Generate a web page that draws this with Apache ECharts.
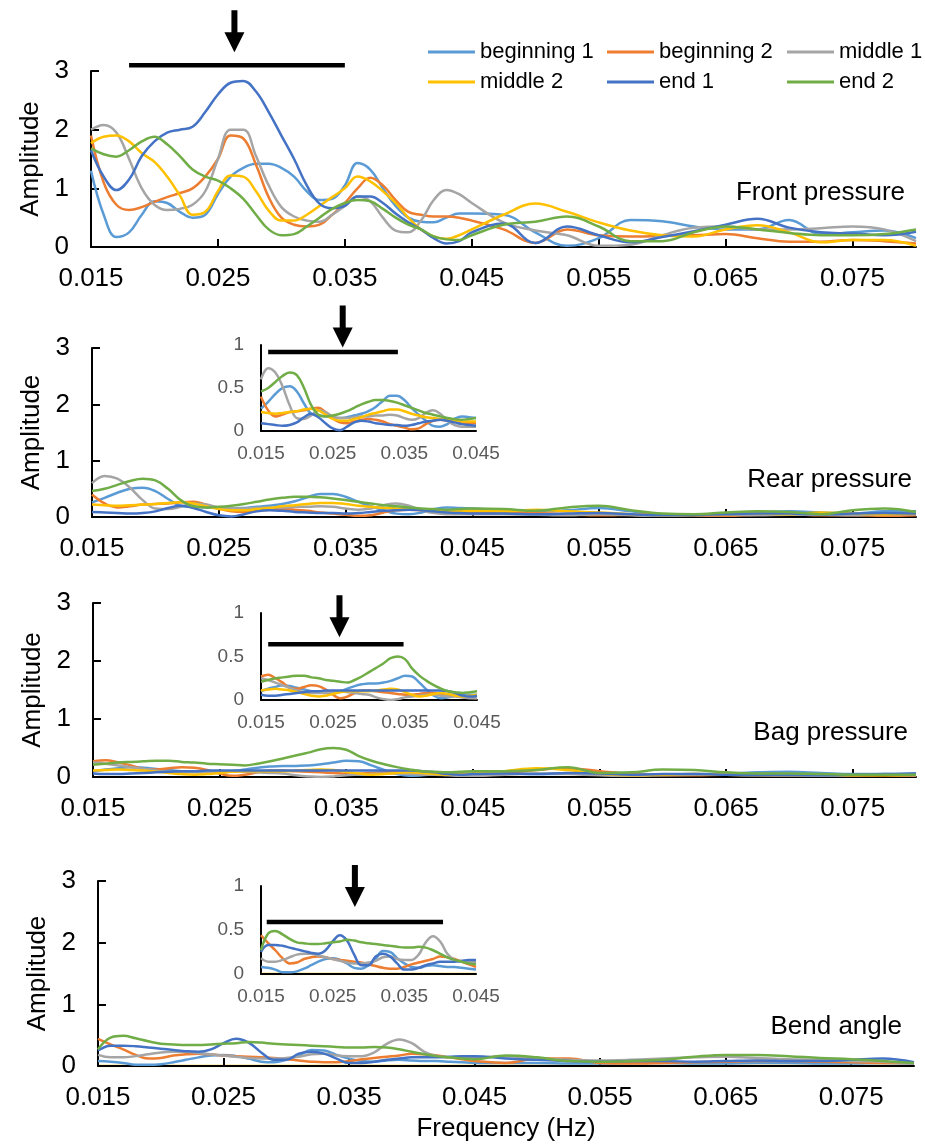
<!DOCTYPE html>
<html>
<head>
<meta charset="utf-8">
<script src="https://cdn.jsdelivr.net/npm/echarts@6/dist/echarts.min.js"></script>
<style>
html, body { margin: 0; background: #fff; }
#chart { width: 925px; height: 1144px; }
</style>
</head>
<body>
<div id="chart"></div>
<script>
const names = ['beginning 1', 'beginning 2', 'middle 1', 'middle 2', 'end 1', 'end 2'];
const colors = ['#5B9BD5', '#ED7D31', '#A5A5A5', '#FFC000', '#4472C4', '#70AD47'];
const panelTitles = ['Front pressure', 'Rear pressure', 'Bag pressure', 'Bend angle'];

// frequency (Hz) sample points
const freq = [0.015, 0.016, 0.017, 0.018, 0.019, 0.020, 0.021, 0.022, 0.023, 0.024,
  0.025, 0.026, 0.027, 0.028, 0.029, 0.030, 0.031, 0.032, 0.033, 0.034,
  0.035, 0.036, 0.037, 0.038, 0.039, 0.040, 0.041, 0.042, 0.043, 0.044, 0.045,
  0.0475, 0.050, 0.0525, 0.055, 0.0575, 0.060, 0.0625, 0.065, 0.0675, 0.070, 0.0725, 0.075, 0.0775, 0.080];

// front pressure
const front_b1 = [1.3, 0.55, 0.17, 0.25, 0.55, 0.78, 0.75, 0.6, 0.5, 0.55, 0.9, 1.2, 1.35, 1.42, 1.42, 1.35, 1.2, 0.95, 0.8, 0.82, 1.05, 1.43, 1.32, 1.0, 0.7, 0.5, 0.43, 0.42, 0.5, 0.57, 0.57,
  0.55, 0.25, 0.02, 0.15, 0.46, 0.44, 0.35, 0.3, 0.3, 0.46, 0.22, 0.25, 0.28, 0.15];
const front_b2 = [1.9, 1.1, 0.72, 0.63, 0.68, 0.77, 0.85, 0.92, 1.0, 1.2, 1.5, 1.9, 1.85, 1.4, 0.85, 0.5, 0.38, 0.35, 0.38, 0.55, 0.75, 1.0, 1.18, 1.05, 0.8, 0.6, 0.55, 0.52, 0.52, 0.5, 0.45,
  0.3, 0.07, 0.3, 0.2, 0.18, 0.19, 0.2, 0.22, 0.15, 0.09, 0.09, 0.12, 0.1, 0.06];
const front_m1 = [2.0, 2.08, 1.95, 1.5, 1.0, 0.72, 0.63, 0.65, 0.72, 0.95, 1.5, 2.0, 2.0, 1.55, 1.05, 0.68, 0.52, 0.45, 0.43, 0.55, 0.7, 0.86, 0.78, 0.5, 0.28, 0.25, 0.45, 0.8, 0.97, 0.9, 0.75,
  0.42, 0.28, 0.2, 0.02, 0.04, 0.2, 0.33, 0.35, 0.3, 0.3, 0.32, 0.35, 0.3, 0.1];
const front_m2 = [1.77, 1.88, 1.9, 1.8, 1.6, 1.45, 1.2, 0.88, 0.55, 0.6, 0.95, 1.22, 1.2, 0.95, 0.62, 0.45, 0.45, 0.55, 0.7, 0.85, 1.0, 1.2, 1.12, 0.95, 0.75, 0.5, 0.3, 0.18, 0.14, 0.2, 0.3,
  0.55, 0.74, 0.6, 0.42, 0.28, 0.2, 0.18, 0.3, 0.37, 0.25, 0.08, 0.12, 0.12, 0.02];
const front_e1 = [1.65, 1.2, 0.97, 1.15, 1.55, 1.8, 1.95, 2.0, 2.05, 2.3, 2.6, 2.8, 2.83, 2.65, 2.3, 1.9, 1.5, 1.05, 0.74, 0.66, 0.7, 0.86, 0.86, 0.75, 0.57, 0.42, 0.3, 0.15, 0.06, 0.1, 0.25,
  0.4, 0.07, 0.35, 0.2, 0.08, 0.17, 0.27, 0.38, 0.48, 0.33, 0.25, 0.23, 0.2, 0.26];
const front_e2 = [1.68, 1.58, 1.54, 1.65, 1.8, 1.88, 1.75, 1.55, 1.32, 1.2, 1.13, 1.0, 0.82, 0.55, 0.3, 0.2, 0.22, 0.35, 0.5, 0.65, 0.75, 0.8, 0.78, 0.65, 0.5, 0.38, 0.3, 0.18, 0.13, 0.12, 0.2,
  0.38, 0.43, 0.52, 0.35, 0.1, 0.1, 0.25, 0.35, 0.3, 0.24, 0.2, 0.2, 0.22, 0.3];

// rear pressure
const rear_b1 = [0.26, 0.34, 0.43, 0.5, 0.52, 0.46, 0.32, 0.2, 0.18, 0.17, 0.16, 0.15, 0.16, 0.18, 0.2, 0.23, 0.28, 0.35, 0.41, 0.41, 0.36, 0.27, 0.19, 0.12, 0.06, 0.05, 0.08, 0.14, 0.17, 0.16, 0.15,
  0.12, 0.1, 0.12, 0.16, 0.1, 0.05, 0.04, 0.06, 0.08, 0.1, 0.08, 0.06, 0.1, 0.1];
const rear_b2 = [0.4, 0.24, 0.17, 0.19, 0.22, 0.23, 0.24, 0.26, 0.27, 0.22, 0.15, 0.1, 0.09, 0.11, 0.13, 0.14, 0.13, 0.11, 0.08, 0.06, 0.04, 0.02, 0.03, 0.08, 0.12, 0.13, 0.12, 0.11, 0.1, 0.09, 0.09,
  0.08, 0.07, 0.05, 0.03, 0.04, 0.05, 0.03, 0.02, 0.04, 0.05, 0.03, 0.03, 0.02, 0.03];
const rear_m1 = [0.6, 0.73, 0.68, 0.52, 0.3, 0.15, 0.14, 0.18, 0.24, 0.22, 0.17, 0.15, 0.15, 0.16, 0.17, 0.17, 0.18, 0.18, 0.19, 0.18, 0.15, 0.13, 0.15, 0.21, 0.24, 0.2, 0.12, 0.07, 0.05, 0.05, 0.05,
  0.05, 0.04, 0.03, 0.05, 0.03, 0.02, 0.03, 0.04, 0.03, 0.04, 0.04, 0.03, 0.05, 0.05];
const rear_m2 = [0.22, 0.21, 0.2, 0.21, 0.22, 0.23, 0.25, 0.26, 0.24, 0.19, 0.14, 0.12, 0.12, 0.14, 0.16, 0.19, 0.21, 0.23, 0.25, 0.25, 0.23, 0.2, 0.18, 0.16, 0.15, 0.14, 0.13, 0.12, 0.11, 0.11, 0.11,
  0.1, 0.13, 0.1, 0.08, 0.05, 0.03, 0.04, 0.05, 0.06, 0.05, 0.08, 0.06, 0.05, 0.06];
const rear_e1 = [0.09, 0.08, 0.07, 0.06, 0.07, 0.1, 0.16, 0.2, 0.16, 0.09, 0.03, 0.01, 0.05, 0.1, 0.12, 0.11, 0.09, 0.08, 0.07, 0.07, 0.06, 0.07, 0.09, 0.11, 0.12, 0.13, 0.12, 0.1, 0.08, 0.07, 0.06,
  0.06, 0.05, 0.06, 0.07, 0.05, 0.03, 0.04, 0.05, 0.06, 0.06, 0.05, 0.06, 0.07, 0.06];
const rear_e2 = [0.46, 0.5, 0.57, 0.64, 0.68, 0.65, 0.5, 0.3, 0.19, 0.17, 0.18, 0.2, 0.23, 0.27, 0.31, 0.34, 0.36, 0.36, 0.35, 0.33, 0.3, 0.27, 0.24, 0.21, 0.19, 0.17, 0.15, 0.14, 0.13, 0.14, 0.15,
  0.14, 0.11, 0.17, 0.2, 0.12, 0.06, 0.05, 0.08, 0.1, 0.09, 0.05, 0.12, 0.15, 0.09];

// bag pressure
const bag_b1 = [0.1, 0.13, 0.15, 0.17, 0.16, 0.14, 0.12, 0.1, 0.09, 0.08, 0.08, 0.1, 0.13, 0.16, 0.18, 0.19, 0.19, 0.2, 0.22, 0.25, 0.28, 0.27, 0.2, 0.12, 0.05, 0.02, 0.03, 0.05, 0.06, 0.06, 0.06,
  0.06, 0.05, 0.06, 0.08, 0.06, 0.04, 0.05, 0.06, 0.08, 0.09, 0.07, 0.05, 0.05, 0.06];
const bag_b2 = [0.27, 0.29, 0.25, 0.2, 0.14, 0.13, 0.15, 0.17, 0.16, 0.12, 0.06, 0.02, 0.04, 0.08, 0.11, 0.11, 0.1, 0.09, 0.08, 0.07, 0.06, 0.06, 0.07, 0.08, 0.08, 0.07, 0.06, 0.05, 0.04, 0.03, 0.02,
  0.06, 0.12, 0.15, 0.1, 0.05, 0.03, 0.03, 0.04, 0.03, 0.02, 0.02, 0.03, 0.03, 0.02];
const bag_m1 = [0.25, 0.23, 0.2, 0.17, 0.14, 0.11, 0.09, 0.08, 0.08, 0.08, 0.09, 0.1, 0.09, 0.08, 0.07, 0.06, 0.03, 0.01, 0.0, 0.01, 0.03, 0.04, 0.05, 0.06, 0.06, 0.05, 0.04, 0.04, 0.03, 0.02, 0.02,
  0.04, 0.06, 0.05, 0.03, 0.02, 0.03, 0.04, 0.05, 0.04, 0.03, 0.02, 0.03, 0.04, 0.03];
const bag_m2 = [0.11, 0.12, 0.13, 0.12, 0.11, 0.09, 0.07, 0.05, 0.04, 0.05, 0.07, 0.09, 0.1, 0.1, 0.1, 0.1, 0.11, 0.12, 0.13, 0.12, 0.09, 0.06, 0.04, 0.05, 0.07, 0.08, 0.07, 0.05, 0.04, 0.05, 0.06,
  0.1, 0.15, 0.12, 0.06, 0.03, 0.04, 0.05, 0.04, 0.03, 0.03, 0.04, 0.03, 0.03, 0.04];
const bag_e1 = [0.06, 0.05, 0.05, 0.06, 0.07, 0.08, 0.09, 0.1, 0.1, 0.11, 0.11, 0.11, 0.11, 0.11, 0.11, 0.11, 0.11, 0.11, 0.11, 0.11, 0.11, 0.11, 0.11, 0.11, 0.11, 0.11, 0.1, 0.08, 0.05, 0.04, 0.05,
  0.06, 0.05, 0.07, 0.06, 0.04, 0.05, 0.05, 0.04, 0.03, 0.03, 0.03, 0.04, 0.05, 0.06];
const bag_e2 = [0.21, 0.23, 0.25, 0.26, 0.27, 0.28, 0.28, 0.26, 0.25, 0.23, 0.22, 0.21, 0.2, 0.23, 0.27, 0.32, 0.37, 0.42, 0.48, 0.5, 0.47, 0.36, 0.28, 0.22, 0.17, 0.13, 0.1, 0.09, 0.08, 0.09, 0.1,
  0.1, 0.12, 0.17, 0.07, 0.08, 0.13, 0.12, 0.08, 0.06, 0.06, 0.05, 0.04, 0.04, 0.04];

// bend angle
const bend_b1 = [0.08, 0.07, 0.05, 0.02, 0.02, 0.03, 0.06, 0.1, 0.14, 0.17, 0.18, 0.16, 0.12, 0.07, 0.06, 0.1, 0.17, 0.26, 0.25, 0.18, 0.12, 0.08, 0.07, 0.09, 0.1, 0.09, 0.08, 0.08, 0.07, 0.06, 0.05,
  0.05, 0.05, 0.04, 0.04, 0.05, 0.05, 0.04, 0.04, 0.05, 0.05, 0.04, 0.04, 0.05, 0.04];
const bend_b2 = [0.44, 0.35, 0.27, 0.18, 0.12, 0.13, 0.17, 0.19, 0.2, 0.19, 0.17, 0.16, 0.15, 0.14, 0.13, 0.11, 0.09, 0.07, 0.06, 0.06, 0.08, 0.11, 0.13, 0.15, 0.17, 0.2, 0.19, 0.17, 0.14, 0.11, 0.08,
  0.05, 0.12, 0.12, 0.05, 0.04, 0.05, 0.06, 0.07, 0.08, 0.08, 0.07, 0.06, 0.05, 0.05];
const bend_m1 = [0.18, 0.14, 0.14, 0.16, 0.19, 0.22, 0.23, 0.23, 0.21, 0.19, 0.17, 0.15, 0.13, 0.12, 0.12, 0.13, 0.15, 0.19, 0.2, 0.17, 0.16, 0.16, 0.22, 0.36, 0.43, 0.37, 0.23, 0.16, 0.14, 0.14, 0.14,
  0.16, 0.12, 0.1, 0.09, 0.1, 0.12, 0.14, 0.15, 0.13, 0.11, 0.1, 0.08, 0.07, 0.05];
// middle 2 is not visible in the bend panel: it lies on the axis line
const bend_m2 = [0, 0, 0, 0, 0, 0, 0, 0, 0, 0, 0, 0, 0, 0, 0, 0, 0, 0, 0, 0, 0, 0, 0, 0, 0, 0, 0, 0, 0, 0, 0,
  0, 0, 0, 0, 0, 0, 0, 0, 0, 0, 0, 0, 0, 0];
const bend_e1 = [0.25, 0.33, 0.33, 0.32, 0.3, 0.28, 0.26, 0.24, 0.23, 0.27, 0.37, 0.44, 0.38, 0.22, 0.1, 0.1, 0.2, 0.23, 0.2, 0.12, 0.05, 0.05, 0.07, 0.1, 0.12, 0.14, 0.14, 0.14, 0.15, 0.16, 0.16,
  0.12, 0.1, 0.08, 0.07, 0.08, 0.08, 0.07, 0.08, 0.09, 0.08, 0.08, 0.1, 0.12, 0.06];
const bend_e2 = [0.27, 0.46, 0.49, 0.45, 0.4, 0.36, 0.35, 0.34, 0.34, 0.35, 0.36, 0.37, 0.39, 0.38, 0.36, 0.35, 0.34, 0.33, 0.32, 0.31, 0.3, 0.3, 0.31, 0.3, 0.27, 0.23, 0.19, 0.16, 0.14, 0.12, 0.11,
  0.17, 0.14, 0.08, 0.07, 0.08, 0.1, 0.15, 0.18, 0.18, 0.16, 0.13, 0.11, 0.08, 0.05];

// annotation: bracket bar + arrow (main panel 0, insets of panels 1..3)
const bracketGrid = [0, 4, 5, 6];
const bracketFrom = [0.018, 0.016, 0.016, 0.0158];
const bracketTo = [0.035, 0.0341, 0.0348, 0.0404];
const bracketLevel = [3.1, 0.92, 0.64, 0.59];
const arrowAt = [0.0263, 0.0264, 0.0259, 0.0281];
const arrowTip = [3.32, 0.97, 0.72, 0.76];

const panels = [
  [front_b1, front_b2, front_m1, front_m2, front_e1, front_e2],
  [rear_b1, rear_b2, rear_m1, rear_m2, rear_e1, rear_e2],
  [bag_b1, bag_b2, bag_m1, bag_m2, bag_e1, bag_e2],
  [bend_b1, bend_b2, bend_m1, bend_m2, bend_e1, bend_e2]
];

const FONT = 'Liberation Sans, Arial, sans-serif';

const mainGrids = [
  { left: 91, top: 71, width: 825, height: 176 },
  { left: 92, top: 348, width: 824, height: 169 },
  { left: 93, top: 603, width: 823, height: 174 },
  { left: 98, top: 881, width: 816, height: 185 }
];
const insetGrids = [
  { left: 261, top: 345, width: 215, height: 86 },
  { left: 261, top: 613, width: 216, height: 87 },
  { left: 261, top: 886, width: 215, height: 88 }
];
const titlePos = [[905, 193], [912, 480], [908, 733], [902, 1027]];

const grid = [], xAxis = [], yAxis = [], series = [];

mainGrids.forEach((g, p) => {
  grid.push(Object.assign({ containLabel: false }, g));
  xAxis.push({
    type: 'value', gridIndex: p, min: 0.015, max: 0.08, interval: 0.01, z: 2,
    axisLine: { lineStyle: { color: '#000', width: 2 } },
    axisTick: { inside: true, length: 8, lineStyle: { color: '#000', width: 2 } },
    axisLabel: { fontSize: 26, color: '#000', fontFamily: FONT, margin: 19, showMaxLabel: false,
      formatter: v => v.toFixed(3) },
    splitLine: { show: false },
    name: p === 3 ? 'Frequency (Hz)' : '',
    nameLocation: 'middle', nameGap: 50,
    nameTextStyle: { fontSize: 26, color: '#000', fontFamily: FONT }
  });
  yAxis.push({
    type: 'value', gridIndex: p, min: 0, max: 3, interval: 1,
    axisLine: { show: true, lineStyle: { color: '#000', width: 2 } },
    axisTick: { show: true, inside: true, length: 8, lineStyle: { color: '#000', width: 2 } },
    axisLabel: { fontSize: 26, color: '#000', fontFamily: FONT, margin: 22 },
    splitLine: { show: false },
    name: 'Amplitude', nameLocation: 'middle', nameGap: 47,
    nameTextStyle: { fontSize: 26, color: '#000', fontFamily: FONT }
  });
});

insetGrids.forEach((g, k) => {
  const idx = 4 + k;
  grid.push(Object.assign({ containLabel: false }, g));
  xAxis.push({
    type: 'value', gridIndex: idx, min: 0.015, max: 0.045, interval: 0.01, z: 2,
    axisLine: { lineStyle: { color: '#000', width: 2 } },
    axisTick: { show: false },
    axisLabel: { fontSize: 19, color: '#595959', fontFamily: FONT, margin: 13,
      formatter: v => v.toFixed(3) },
    splitLine: { show: false }
  });
  yAxis.push({
    type: 'value', gridIndex: idx, min: 0, max: 1, interval: 0.5,
    axisLine: { show: true, lineStyle: { color: '#000', width: 2 } },
    axisTick: { show: false },
    axisLabel: { fontSize: 19, color: '#595959', fontFamily: FONT, margin: 17 },
    splitLine: { show: false }
  });
});

function addSeries(axisIdx, values, s, limit) {
  const pts = [];
  freq.forEach((f, i) => { if (f <= limit + 1e-9) pts.push([f, values[i]]); });
  const flat = values.every(v => v === 0);
  series.push({
    type: 'line', name: names[s], xAxisIndex: axisIdx, yAxisIndex: axisIdx,
    data: pts, smooth: 0.4, showSymbol: false, symbol: 'none', silent: true,
    z: flat ? 1 : 3,
    lineStyle: { color: colors[s], width: 2.5 },
    itemStyle: { color: colors[s] }
  });
}

panels.forEach((arrs, p) => arrs.forEach((vals, s) => addSeries(p, vals, s, 0.08)));
[1, 2, 3].forEach((p, k) => panels[p].forEach((vals, s) => addSeries(4 + k, vals, s, 0.045)));

const legendPos = [[428, 41], [607, 41], [787, 41], [428, 71], [607, 71], [787, 71]];
const legend = names.map((n, i) => ({
  data: [n], left: legendPos[i][0], top: legendPos[i][1],
  icon: 'rect', itemWidth: 47, itemHeight: 3, padding: 0,
  textStyle: { fontSize: 22, color: '#000', fontFamily: FONT }
}));

const titleGraphics = panelTitles.map((t, i) => ({
  type: 'text', x: titlePos[i][0], y: titlePos[i][1],
  style: { text: t, fontSize: 26, fontFamily: FONT, fill: '#000', align: 'right', verticalAlign: 'middle' }
}));

const chart = echarts.init(document.getElementById('chart'));
chart.setOption({
  animation: false,
  backgroundColor: '#fff',
  grid, xAxis, yAxis, series, legend,
  graphic: titleGraphics
});

// brackets and arrows placed through the axes
const marks = [];
bracketGrid.forEach((gi, i) => {
  const conv = pt => chart.convertToPixel({ xAxisIndex: gi, yAxisIndex: gi }, pt);
  const a = conv([bracketFrom[i], bracketLevel[i]]);
  const b = conv([bracketTo[i], bracketLevel[i]]);
  const tip = conv([arrowAt[i], arrowTip[i]]);
  marks.push({
    type: 'line', shape: { x1: a[0], y1: a[1], x2: b[0], y2: b[1] },
    style: { stroke: '#000', lineWidth: 4.5 }
  });
  const x = tip[0], y = tip[1], hh = 20, len = 42;
  marks.push({
    type: 'polygon',
    shape: { points: [[x - 3, y - len], [x + 3, y - len], [x + 3, y - hh], [x + 10, y - hh], [x, y], [x - 10, y - hh], [x - 3, y - hh]] },
    style: { fill: '#000' }
  });
});
chart.setOption({ graphic: titleGraphics.concat(marks) });
</script>
</body>
</html>
